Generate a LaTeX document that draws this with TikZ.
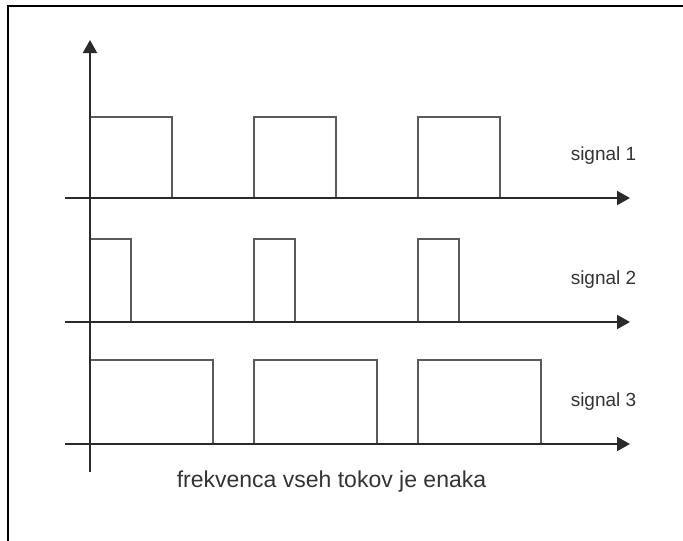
\documentclass[tikz,border=0pt]{standalone}
\usepackage{fontspec}
\setmainfont{Liberation Sans}
\usetikzlibrary{arrows.meta}
\definecolor{axiscol}{HTML}{2A2A2A}
\definecolor{pulsecol}{HTML}{5A5A5A}
\definecolor{textcol}{HTML}{333333}
\begin{document}
\begin{tikzpicture}[x=1pt,y=-1pt,
  axis/.style={draw=axiscol,line width=2.2pt,-{Triangle[length=13pt,width=14pt]}},
  pulse/.style={draw=pulsecol,line width=1.3pt,line join=miter},
  siglabel/.style={text=textcol,font=\fontsize{19}{22}\selectfont,inner sep=0pt},
  caption/.style={text=textcol,font=\fontsize{23}{26}\selectfont,inner sep=0pt}]
\useasboundingbox (0,0) rectangle (683,541);
\draw[black,line width=2.2pt] (8,545) -- (8,6) -- (690,6);
% axes
\coordinate (v0) at (90,472);
\coordinate (v1) at (90,40);
\coordinate (a1s) at (65,198); \coordinate (a1e) at (630,198);
\coordinate (a2s) at (65,322); \coordinate (a2e) at (630,322);
\coordinate (a3s) at (65,444); \coordinate (a3e) at (630,444);
% pulses signal 1
\foreach \x in {90,254,418}{
  \draw[pulse] (\x,198) -- (\x,117) -- (\x+82,117) -- (\x+82,198);
  \draw[pulse] (\x,322) -- (\x,239) -- (\x+41,239) -- (\x+41,322);
  \draw[pulse] (\x,444) -- (\x,360) -- (\x+123,360) -- (\x+123,444);
}
\draw[axis] (v0) -- (v1);
\draw[axis] (a1s) -- (a1e);
\draw[axis] (a2s) -- (a2e);
\draw[axis] (a3s) -- (a3e);
\node[siglabel] (s1) at (603.5,156) {signal 1};
\node[siglabel] (s2) at (603.5,280) {signal 2};
\node[siglabel] (s3) at (603.5,402) {signal 3};
\node[caption] (cap) at (331.5,482) {frekvenca vseh tokov je enaka};
\end{tikzpicture}
\end{document}
